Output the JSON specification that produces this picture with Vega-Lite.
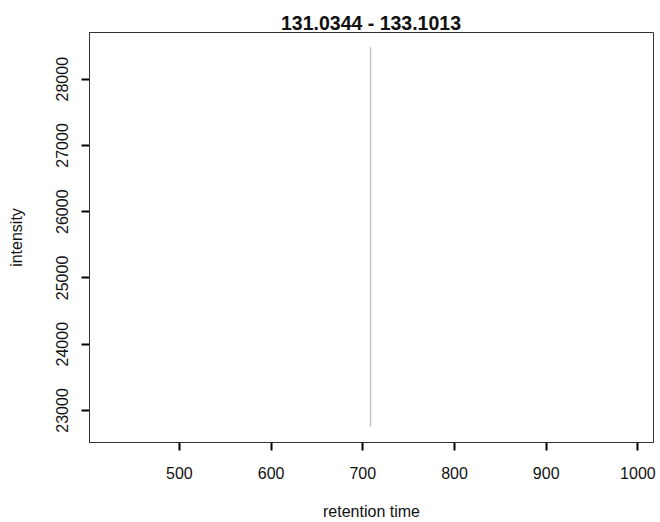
{
  "$schema": "https://vega.github.io/schema/vega-lite/v6.json",
  "autosize": {"type": "none"},
  "padding": {"left": 89, "top": 32, "right": 7, "bottom": 80},
  "width": 564,
  "height": 410,
  "background": "white",
  "config": {
    "view": {"stroke": "#333333", "strokeWidth": 1},
    "font": "Liberation Sans",
    "axis": {
      "grid": false,
      "labelFont": "Liberation Sans",
      "labelFontSize": 16,
      "labelColor": "#111111",
      "titleFont": "Liberation Sans",
      "titleFontSize": 16,
      "titleFontWeight": "normal",
      "titleColor": "#111111",
      "format": "d"
    }
  },
  "title": {
    "text": "131.0344 - 133.1013",
    "font": "Liberation Sans",
    "fontSize": 19.5,
    "fontWeight": "bold",
    "color": "#111111",
    "anchor": "middle",
    "offset": -2
  },
  "data": {
    "values": [
      {"rt": 709, "intensity": 22745},
      {"rt": 709, "intensity": 28476}
    ]
  },
  "mark": {"type": "line", "color": "#bebebe", "strokeWidth": 1.3},
  "encoding": {
    "x": {
      "field": "rt",
      "type": "quantitative",
      "scale": {"domain": [402, 1017], "nice": false, "zero": false},
      "axis": {
        "title": "retention time",
        "values": [500, 600, 700, 800, 900, 1000],
        "domain": true,
        "domainColor": "#333333",
        "domainWidth": 1,
        "ticks": true,
        "tickColor": "#000000",
        "tickWidth": 2,
        "tickSize": 8,
        "labelPadding": 15,
        "titlePadding": 22
      }
    },
    "y": {
      "field": "intensity",
      "type": "quantitative",
      "scale": {"domain": [22516, 28705], "nice": false, "zero": false},
      "axis": {
        "title": "intensity",
        "values": [23000, 24000, 25000, 26000, 27000, 28000],
        "domain": true,
        "domainColor": "#333333",
        "domainWidth": 1,
        "ticks": true,
        "tickColor": "#000000",
        "tickWidth": 2,
        "tickSize": 8,
        "labelAngle": -90,
        "labelAlign": "center",
        "labelBaseline": "bottom",
        "labelPadding": 11,
        "titlePadding": 30
      }
    }
  }
}
